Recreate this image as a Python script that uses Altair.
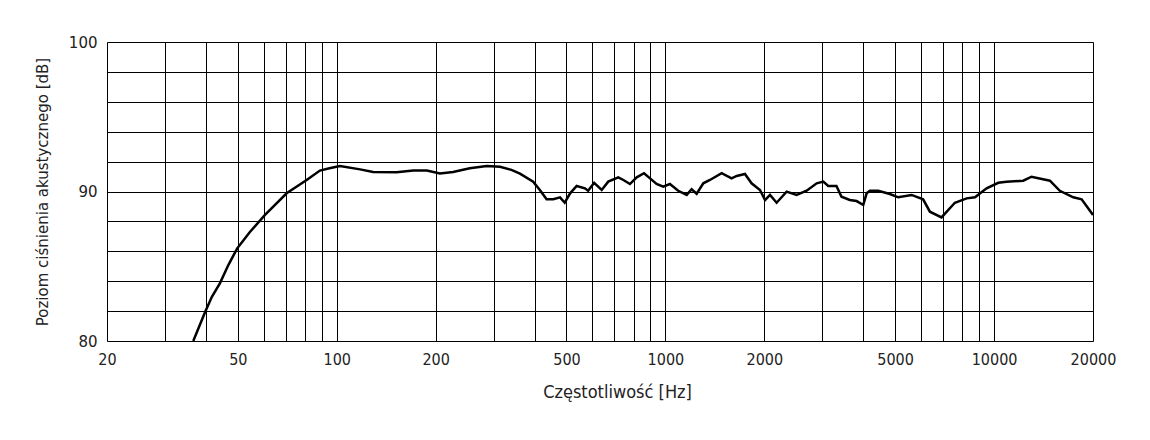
import altair as alt
import pandas as pd

freq = [36.6, 39.8, 41.7, 44.1, 46.8, 49.8, 54.5, 60.5, 70.4, 81.0, 88.9, 95, 102.3, 117.8, 129,
        152, 171, 188, 206, 226, 254, 286, 314, 340, 361, 396, 415, 435, 456, 478, 494, 513,
        537, 569, 582, 607, 640, 670, 719, 745, 780, 818, 861, 898, 940, 985, 1032, 1094,
        1161, 1202, 1245, 1304, 1366, 1483, 1590, 1648, 1746, 1829, 1940, 2010, 2081, 2180,
        2338, 2507, 2690, 2886, 3023, 3129, 3315, 3434, 3640, 3818, 4000, 4095, 4190, 4440,
        4820, 5110, 5611, 6083, 6380, 6920, 7600, 8250, 8750, 9490, 10300, 10910, 12270,
        13000, 14790, 15850, 17420, 18470, 20000]
spl = [80.0, 81.96, 82.96, 83.86, 85.08, 86.2, 87.31, 88.43, 89.88, 90.77, 91.4, 91.55, 91.7, 91.48, 91.3,
       91.28, 91.4, 91.4, 91.2, 91.3, 91.55, 91.7, 91.65, 91.45, 91.2, 90.66, 90.1, 89.48, 89.48, 89.61, 89.25, 89.88,
       90.37, 90.21, 90.05, 90.58, 90.1, 90.66, 90.95, 90.77, 90.5, 90.95, 91.22, 90.88, 90.5, 90.32, 90.5, 90.05,
       89.77, 90.15, 89.85, 90.55, 90.77, 91.22, 90.88, 91.04, 91.17, 90.55, 90.1, 89.43, 89.77, 89.25,
       89.99, 89.77, 90.05, 90.55, 90.66, 90.37, 90.37, 89.65, 89.43, 89.36, 89.1, 89.88, 90.05, 90.05,
       89.83, 89.61, 89.77, 89.48, 88.65, 88.27, 89.25, 89.54, 89.61, 90.21, 90.58, 90.65, 90.72,
       90.99, 90.72, 90.05, 89.61, 89.48, 88.43]

grid_x = [20, 30, 40, 50, 60, 70, 80, 90, 100, 200, 300, 400, 500, 600, 700, 800, 900,
          1000, 2000, 3000, 4000, 5000, 6000, 7000, 8000, 9000, 10000, 20000]
label_x = [20, 50, 100, 200, 500, 1000, 2000, 5000, 10000, 20000]
grid_y = [80, 82, 84, 86, 88, 90, 92, 94, 96, 98, 100]
label_y = [80, 90, 100]

df = pd.DataFrame({"f": freq, "spl": spl})

xexpr = "indexof([" + ",".join(str(v) for v in label_x) + "], datum.value) >= 0 ? format(datum.value, 'd') : ''"
yexpr = "indexof([" + ",".join(str(v) for v in label_y) + "], datum.value) >= 0 ? format(datum.value, 'd') : ''"

chart = alt.Chart(df).mark_line(color="black", strokeWidth=2.5, clip=True).encode(
    x=alt.X("f:Q",
            scale=alt.Scale(type="log", domain=[20, 20000], nice=False),
            axis=alt.Axis(values=grid_x, labelExpr=xexpr, title="Częstotliwość [Hz]",
                          grid=True, gridColor="black", gridOpacity=1, gridWidth=1,
                          ticks=False, domain=False, labelPadding=10, labelOverlap=False,
                          labelFlush=False, labelBound=False,
                          labelFont="DejaVu Sans Condensed", labelFontSize=16, labelColor="#222",
                          titleFont="DejaVu Sans Condensed", titleFontSize=18, titleFontWeight="normal",
                          titleColor="#222", titlePadding=16, titleX=510)),
    y=alt.Y("spl:Q",
            scale=alt.Scale(domain=[80, 100], nice=False, zero=False),
            axis=alt.Axis(values=grid_y, labelExpr=yexpr, title="Poziom ciśnienia akustycznego [dB]",
                          grid=True, gridColor="black", gridOpacity=1, gridWidth=1,
                          ticks=False, domain=False, labelPadding=10, labelOverlap=False,
                          labelFlush=False, labelBound=False,
                          labelFont="DejaVu Sans", labelFontSize=15, labelColor="#222",
                          titleFont="DejaVu Sans", titleFontSize=15, titleFontWeight="normal",
                          titleColor="#222", titlePadding=18)),
).properties(
    width=986, height=299,
    padding={"left": 99, "top": 34, "right": 49, "bottom": 85},
    autosize=alt.AutoSizeParams(type="none"),
).configure_view(stroke="black", strokeWidth=1).configure(background="white")

chart.save("out.html", embed_options={"renderer": "svg", "actions": False})
